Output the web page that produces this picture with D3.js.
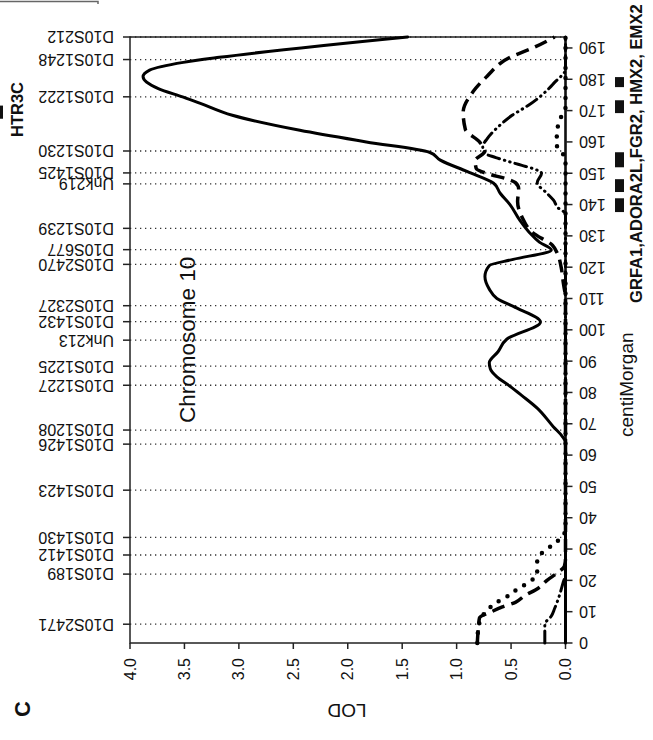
<!DOCTYPE html>
<html>
<head>
<meta charset="utf-8">
<script src="https://cdn.jsdelivr.net/npm/d3@7"></script>
<style>
  body { margin: 0; background: #fff; }
  text { font-family: "Liberation Sans", Arial, sans-serif; fill: #111; }
</style>
</head>
<body>
<script>
// marker names and their cM positions (chromosome 10)
const markerNames = ["D10S2471", "D10S189", "D10S1412", "D10S1430", "D10S1423", "D10S1426", "D10S1208",
  "D10S1227", "D10S1225", "Unk213", "D10S1432", "D10S2327", "D10S2470", "D10S677", "D10S1239",
  "Unk219", "D10S1425", "D10S1230", "D10S1222", "D10S1248", "D10S212"];
const markerCM = [6.0, 22.0, 28.1, 33.7, 48.8, 63.5, 68.0, 82.3, 88.4, 96.7, 102.6, 107.7, 120.9, 125.6, 132.4,
  146.6, 150.1, 157.1, 174.4, 186.3, 193.5];

const lodTicks = [0, 0.5, 1.0, 1.5, 2.0, 2.5, 3.0, 3.5, 4.0];
const cmTicks = [0, 10, 20, 30, 40, 50, 60, 70, 80, 90, 100, 110, 120, 130, 140, 150, 160, 170, 180, 190];

// LOD curves, [cM, LOD]
const solidSeries = [[0, 0], [64, 0], [66, 0.03], [69, 0.11], [75, 0.26], [79, 0.40], [82, 0.51], [85, 0.63],
  [87.5, 0.69], [89.5, 0.70], [93, 0.62], [97, 0.54], [102.5, 0.23], [107, 0.45], [110, 0.63], [113, 0.70],
  [117, 0.74], [120.5, 0.70], [122.5, 0.48], [125.5, 0.13], [128, 0.24], [131, 0.33], [135, 0.42],
  [140, 0.51], [143.6, 0.60], [146.8, 0.66], [150.5, 0.90], [154.2, 1.15], [156.7, 1.25], [160, 1.83],
  [163.7, 2.44], [168.5, 3.06], [172.4, 3.36], [174.3, 3.51], [177, 3.74], [180.8, 3.88], [182.9, 3.82],
  [185.4, 3.51], [187, 3.18], [193.5, 1.45]];
const dashSeries = [[0, 0.81], [5, 0.80], [8, 0.79], [10, 0.68], [11.5, 0.58], [13, 0.46], [15, 0.38],
  [17.5, 0.25], [20, 0.17], [22.5, 0.07], [24.5, 0.01], [27, 0], [110, 0], [115, 0.02], [120, 0.04],
  [124, 0.07], [127, 0.12], [131, 0.30], [136, 0.40], [141, 0.44], [145, 0.43], [147, 0.46], [148.3, 0.55],
  [149.7, 0.70], [151.5, 0.82], [154, 0.83], [157, 0.74], [160, 0.79], [164, 0.92], [169.5, 0.94],
  [176, 0.85], [181, 0.72], [187, 0.51], [190, 0.30], [193.5, 0.10]];
const dashDotSeries = [[0, 0.19], [6, 0.19], [8.6, 0.13], [11, 0.10], [13.7, 0.07], [19.5, 0.02], [22, 0],
  [137, 0], [139, 0.07], [141.4, 0.11], [143.6, 0.17], [147, 0.26], [150, 0.22], [151.5, 0.30],
  [152.5, 0.40], [153.3, 0.48], [155, 0.64], [156.5, 0.75], [158.5, 0.76], [161, 0.72], [166, 0.58],
  [168.5, 0.49], [170, 0.42], [171.7, 0.34], [177.5, 0.14], [179, 0.10], [181, 0.04], [183, 0], [193.5, 0]];
const dotSeries = [[0, 0.81], [5, 0.80], [7.5, 0.78], [10.5, 0.72], [13, 0.63], [15, 0.53], [17.5, 0.43],
  [19.5, 0.33], [22.5, 0.26], [26, 0.26], [29, 0.21], [31.5, 0.11], [34.5, 0.02], [36, 0], [155, 0],
  [157, 0.05], [159, 0.08], [162, 0.08], [165, 0.07], [168, 0.04], [171, 0], [193.5, 0]];

// gene positions (cM ranges)
const geneBars = [[177.5, 180.7], [169.2, 173.3], [151.9, 156.7], [144.0, 148.1], [137.6, 142.0]];
const htr3cBar = [167.4, 171.6];

const width = 653, height = 740;
const svg = d3.select("body").append("svg").attr("width", width).attr("height", height);

const x = d3.scaleLinear().domain([4, 0]).range([130, 565.5]);
const y = d3.scaleLinear().domain([0, 193.5]).range([643, 37]);

// stray frame from the neighbouring panel
svg.append("path").attr("d", "M0,1.5H98V4").attr("fill", "none").attr("stroke", "#666").attr("stroke-width", 1.5);

// dotted marker grid
svg.append("g").selectAll("line").data(markerCM).join("line")
  .attr("x1", x(4)).attr("x2", x(0))
  .attr("y1", (d) => y(d)).attr("y2", (d) => y(d))
  .attr("stroke", "#333").attr("stroke-width", 1.3).attr("stroke-dasharray", "1.3,3.7");

// frame
svg.append("rect").attr("x", x(4)).attr("y", y(193.5)).attr("width", x(0) - x(4)).attr("height", y(0) - y(193.5))
  .attr("fill", "none").attr("stroke", "#222").attr("stroke-width", 1.5);

// marker ticks + labels (upside down)
svg.append("g").selectAll("line").data(markerCM).join("line")
  .attr("x1", x(4) - 7).attr("x2", x(4)).attr("y1", (d) => y(d)).attr("y2", (d) => y(d))
  .attr("stroke", "#222").attr("stroke-width", 1.5);
svg.append("g").selectAll("text").data(markerNames).join("text")
  .attr("transform", (d, i) => `translate(114,${y(markerCM[i])}) rotate(180)`)
  .attr("dy", "0.35em").attr("font-size", 16).text((d) => d);

// LOD axis
svg.append("g").selectAll("line").data(lodTicks).join("line")
  .attr("x1", (d) => x(d)).attr("x2", (d) => x(d)).attr("y1", y(0)).attr("y2", y(0) + 6)
  .attr("stroke", "#222").attr("stroke-width", 1.5);
svg.append("g").selectAll("text").data(lodTicks).join("text")
  .attr("transform", (d) => `translate(${x(d)},658) rotate(-90)`)
  .attr("text-anchor", "end").attr("dy", "0.35em").attr("font-size", 16)
  .text((d) => d3.format(".1f")(d));
svg.append("text").attr("transform", "translate(347,711) rotate(180)")
  .attr("text-anchor", "middle").attr("dy", "0.35em").attr("font-size", 19).text("LOD");

// cM axis on the right
svg.append("line").attr("x1", x(0)).attr("x2", x(0)).attr("y1", y(0)).attr("y2", y(193.5))
  .attr("stroke", "#111").attr("stroke-width", 2.5);
svg.append("g").selectAll("line").data(cmTicks).join("line")
  .attr("x1", x(0)).attr("x2", x(0) + 7).attr("y1", (d) => y(d)).attr("y2", (d) => y(d))
  .attr("stroke", "#222").attr("stroke-width", 1.5);
svg.append("g").selectAll("text").data(cmTicks).join("text")
  .attr("transform", (d) => `translate(579,${y(d)}) rotate(180)`)
  .attr("text-anchor", "end").attr("dy", "0.35em").attr("font-size", 16).text((d) => d);

svg.append("text").attr("transform", "translate(633,437) rotate(-90)")
  .attr("font-size", 19).text("centiMorgan");
svg.append("text").attr("transform", "translate(642,303) rotate(-90)")
  .attr("font-size", 16.6).attr("font-weight", "bold").text("GRFA1,ADORA2L,FGR2, HMX2, EMX2");
svg.append("g").selectAll("rect").data(geneBars).join("rect")
  .attr("x", 615).attr("width", 9)
  .attr("y", (d) => y(d[1])).attr("height", (d) => y(d[0]) - y(d[1])).attr("fill", "#111");

svg.append("text").attr("transform", "translate(23,137) rotate(-90)")
  .attr("font-size", 16.5).attr("font-weight", "bold").text("HTR3C");
svg.append("rect").attr("x", -3).attr("width", 6)
  .attr("y", y(htr3cBar[1])).attr("height", y(htr3cBar[0]) - y(htr3cBar[1])).attr("fill", "#111");

svg.append("text").attr("transform", "translate(195,423) rotate(-90)")
  .attr("font-size", 22.5).text("Chromosome 10");
svg.append("text").attr("transform", "translate(30,709) rotate(-90)")
  .attr("text-anchor", "middle").attr("font-size", 22).attr("font-weight", "bold").text("C");

// LOD curves
const line = d3.line().x((d) => x(d[1])).y((d) => y(d[0])).curve(d3.curveMonotoneY);

const curves = [
  { data: dotSeries, w: 4.5, dash: "0,10", cap: "round" },
  { data: dashDotSeries, w: 3, dash: "12,5,0.5,5,0.5,5", cap: "round" },
  { data: dashSeries, w: 3.5, dash: "13,7", cap: "butt" },
  { data: solidSeries, w: 3, dash: null, cap: "round" },
];
svg.append("g").selectAll("path").data(curves).join("path")
  .attr("d", (d) => line(d.data))
  .attr("fill", "none").attr("stroke", "#000")
  .attr("stroke-width", (d) => d.w)
  .attr("stroke-dasharray", (d) => d.dash)
  .attr("stroke-linecap", (d) => d.cap)
  .attr("stroke-linejoin", "round");
</script>
</body>
</html>
